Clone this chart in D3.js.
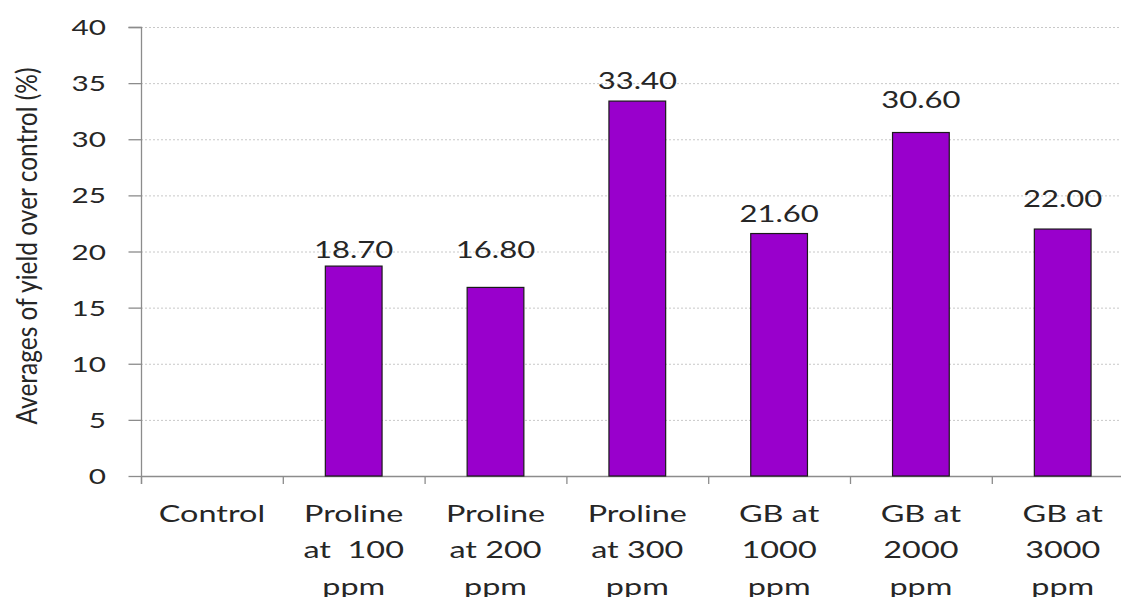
<!DOCTYPE html>
<html>
<head>
<meta charset="utf-8">
<script src="https://cdn.jsdelivr.net/npm/d3@7"></script>
<style>
  html, body { margin: 0; padding: 0; background: #fff; }
  svg { display: block; }
  text { font-family: Lato, "Open Sans", sans-serif; fill: #262626; }
</style>
</head>
<body>
<svg id="chart" width="1121" height="597"></svg>
<script>
// Treatments (x categories, multi-line labels) and yield averages
const categories = [
  ["Control"],
  ["Proline", "at  100", "ppm"],
  ["Proline", "at 200", "ppm"],
  ["Proline", "at 300", "ppm"],
  ["GB at", "1000", "ppm"],
  ["GB at", "2000", "ppm"],
  ["GB at", "3000", "ppm"]
];
const yieldValues = [null, 18.70, 16.80, 33.40, 21.60, 30.60, 22.00];
const yTicks = [0, 5, 10, 15, 20, 25, 30, 35, 40];
const yTitle = "Averages of yield over control (%)";

// ---- layout ----
const svg = d3.select("#chart");
const plotLeft = 141, plotTop = 27, plotBottom = 476;
const band = 141.8;
const plotRight = plotLeft + band * categories.length;
const sx = 1.35; // horizontal stretch applied to text
const labelGap = [0, 8, 29, 12, 11.5, 24.5, 22];

const x = d3.scaleBand()
  .domain(d3.range(categories.length))
  .range([plotLeft, plotRight])
  .paddingInner(0.6)
  .paddingOuter(0.3);

const y = d3.scaleLinear().domain([0, 40]).range([plotBottom, plotTop]);

// dotted gridlines
svg.append("g")
  .selectAll("line")
  .data(yTicks.filter(d => d > 0))
  .join("line")
  .attr("x1", plotLeft).attr("x2", 1121)
  .attr("y1", d => y(d) + 0.5).attr("y2", d => y(d) + 0.5)
  .attr("stroke", "#c8c8c8")
  .attr("stroke-width", 1)
  .attr("stroke-dasharray", "2,2");

// y axis
const yAxis = d3.axisLeft(y).tickValues(yTicks).tickSize(13).tickFormat("");
const gy = svg.append("g").attr("transform", `translate(${plotLeft + 0.5},0)`).call(yAxis);
gy.select(".domain").attr("stroke", "#8c8c8c").attr("stroke-width", 1.3)
  .attr("d", `M-13,${plotTop + 0.5}H0V${plotBottom + 8}`);
gy.selectAll(".tick line").attr("stroke", "#8c8c8c").attr("stroke-width", 1.3);

// y tick labels (stretched horizontally)
svg.append("g")
  .selectAll("text")
  .data(yTicks)
  .join("text")
  .attr("transform", d => `translate(106,${y(d) + 8}) scale(${sx},1)`)
  .attr("text-anchor", "end")
  .attr("font-size", 22)
  .text(d => d);

// x axis baseline and tick marks at category boundaries
svg.append("line")
  .attr("x1", plotLeft).attr("x2", 1121)
  .attr("y1", plotBottom + 0.5).attr("y2", plotBottom + 0.5)
  .attr("stroke", "#8c8c8c").attr("stroke-width", 1.3);
svg.append("g")
  .selectAll("line")
  .data(d3.range(categories.length + 1))
  .join("line")
  .attr("x1", i => plotLeft + i * band + 0.5).attr("x2", i => plotLeft + i * band + 0.5)
  .attr("y1", plotBottom).attr("y2", plotBottom + 8)
  .attr("stroke", "#8c8c8c").attr("stroke-width", 1.3);

// bars
const barData = yieldValues.map((v, i) => ({ v, i })).filter(d => d.v != null);
svg.append("g")
  .selectAll("rect")
  .data(barData)
  .join("rect")
  .attr("x", d => x(d.i))
  .attr("width", x.bandwidth())
  .attr("y", d => y(d.v))
  .attr("height", d => y(0) - y(d.v))
  .attr("fill", "#9900CC")
  .attr("stroke", "#1a1a1a")
  .attr("stroke-width", 1.2);

// value labels
svg.append("g")
  .selectAll("text")
  .data(barData)
  .join("text")
  .attr("transform", d => `translate(${x(d.i) + x.bandwidth() / 2},${y(d.v) - labelGap[d.i]}) scale(${sx},1)`)
  .attr("text-anchor", "middle")
  .attr("font-size", 23)
  .text(d => d3.format(".2f")(d.v));

// category labels
const cat = svg.append("g")
  .selectAll("g")
  .data(categories)
  .join("g")
  .attr("transform", (d, i) => `translate(${plotLeft + (i + 0.5) * band},522) scale(${sx},1)`);
cat.selectAll("text")
  .data(d => d)
  .join("text")
  .attr("y", (d, j) => j * 36.5)
  .attr("text-anchor", "middle")
  .attr("font-size", 24)
  .style("white-space", "pre")
  .text(d => d);

// y axis title
svg.append("text")
  .attr("transform", `translate(37,246) scale(${sx},1) rotate(-90)`)
  .attr("text-anchor", "middle")
  .attr("font-size", 22)
  .attr("textLength", 357)
  .attr("lengthAdjust", "spacingAndGlyphs")
  .text(yTitle);
</script>
</body>
</html>
